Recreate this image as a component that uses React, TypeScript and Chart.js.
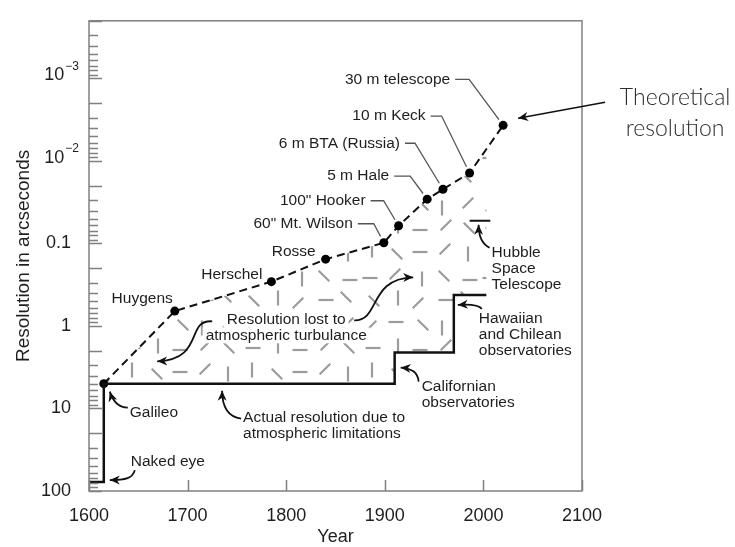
import React, { useEffect, useRef } from 'react';
import { Chart, registerables } from 'chart.js';

Chart.register(...registerables);

const FONT = "'Liberation Sans', Arial, Helvetica, sans-serif";
const INK = '#1e1e1e';
const FRAME = '#808080';

// Theoretical (diffraction-limited) resolution of landmark telescopes
const telescopes = ['Galileo', 'Huygens', 'Herschel', 'Rosse', '60" Mt. Wilson', '100" Hooker', '5 m Hale', '6 m BTA (Russia)', '10 m Keck', '30 m telescope'];
const telescopeYears = [1615, 1687, 1785, 1840, 1899, 1914, 1943, 1959, 1986, 2020];
const theoreticalRes = [5, 0.66, 0.29, 0.155, 0.098, 0.061, 0.029, 0.022, 0.014, 0.0037];

// Best resolution reached from the ground (steps at new observatory sites)
const actualYears = [1600, 1615, 1910, 1970, 2003];
const actualRes = [78, 5, 2.1, 0.42, 0.42];

// Hubble Space Telescope
const hubbleYears = [1986, 2007];
const hubbleRes = [0.053, 0.053];

// Axis ticks
const yearTicks = [1600, 1700, 1800, 1900, 2000, 2100];
const decadeTicks = [1e-3, 1e-2, 0.1, 1, 10, 100];
const decadeBase = ['10', '10', '0.1', '1', '10', '100'];
const decadeExp = ['\u22123', '\u22122', '', '', '', ''];

// Label placement next to each telescope point: [text right dx, text dy, leader elbow dx]
const labelPlacement: Record<string, [number, number, number | null]> = {
  'Huygens': [-2, -12, null],
  'Herschel': [-9, -7, null],
  'Rosse': [-10, -7, null],
  '60" Mt. Wilson': [-31, -19, -10],
  '100" Hooker': [-33, -25, -15],
  '5 m Hale': [-38, -23, -17],
  '6 m BTA (Russia)': [-43, -46, -28],
  '10 m Keck': [-44, -57, -28],
  '30 m telescope': [-53, -46, -34],
};

type Callout = {
  at: [number, number];
  lines: string[];
  dx: number;
  dy: number;
  align: CanvasTextAlign;
  curves: number[][]; // cubic curves as offsets: start, c1, c2, tip
  knockout?: boolean; // clear the texture behind the text
};

const callouts: Callout[] = [
  { at: [1615, 5], lines: ['Galileo'], dx: 26, dy: 29, align: 'left', curves: [[24, 24, 15, 24, 9, 17, 6, 8]] },
  { at: [1615, 78], lines: ['Naked eye'], dx: 27, dy: -20, align: 'left', curves: [[31, -12, 29, -4, 22, -2, 6, -2]] },
  { at: [1735, 5], lines: ['Actual resolution due to', 'atmospheric limitations'], dx: 21, dy: 34, align: 'left', curves: [[19, 35, 6, 33, 0, 24, 0, 7]] },
  {
    at: [1800, 0.83], lines: ['Resolution lost to', 'atmospheric turbulance'], dx: 0, dy: 0, align: 'center',
    curves: [[-74, 2, -101, 0, -81, 40, -129, 42], [68, 1, 94, 2, 82, -41, 127, -42]], knockout: true,
  },
  { at: [1986, 0.053], lines: ['Hubble', 'Space', 'Telescope'], dx: 22, dy: 32, align: 'left', curves: [[20, 27, 12, 23, 9, 15, 9, 4]] },
  { at: [1970, 0.42], lines: ['Hawaiian', 'and Chilean', 'observatories'], dx: 25, dy: 24, align: 'left', curves: [[28, 14, 25, 10, 18, 9, 4, 10]] },
  { at: [1910, 2.1], lines: ['Californian', 'observatories'], dx: 27, dy: 34.5, align: 'left', curves: [[24, 29, 23, 20, 18, 16, 6, 15]] },
];

// Short grey strokes that texture the "lost" band: [x, y, orientation] in a 120px tile
const hatchMarks: [number, number, number][] = [
  [12, 10, 1], [37, 14, 2], [60, 12, 0], [85, 9, 3], [108, 14, 1],
  [10, 38, 0], [35, 34, 3], [62, 39, 1], [84, 36, 2], [110, 40, 0],
  [14, 61, 2], [38, 58, 1], [58, 63, 3], [86, 60, 0], [106, 57, 2],
  [11, 86, 3], [36, 82, 0], [63, 85, 2], [82, 88, 1], [108, 83, 3],
  [13, 108, 0], [38, 106, 1], [60, 110, 0], [86, 105, 3], [109, 108, 2],
];

function makeHatch(): CanvasPattern | null {
  const c = document.createElement('canvas');
  c.width = 120;
  c.height = 120;
  const g = c.getContext('2d');
  if (!g) return null;
  g.strokeStyle = '#9c9c9c';
  g.lineWidth = 2.2;
  const h = 7.5;
  const r = Math.SQRT1_2;
  for (const [x, y, o] of hatchMarks) {
    const [ux, uy] = o === 0 ? [1, 0] : o === 1 ? [0, 1] : o === 2 ? [r, r] : [r, -r];
    g.beginPath();
    g.moveTo(x - ux * h, y - uy * h);
    g.lineTo(x + ux * h, y + uy * h);
    g.stroke();
  }
  return g.createPattern(c, 'repeat');
}

function drawArrowCurve(ctx: CanvasRenderingContext2D, ox: number, oy: number, c: number[]) {
  const [sx, sy, c1x, c1y, c2x, c2y, ex, ey] = c;
  ctx.beginPath();
  ctx.moveTo(ox + sx, oy + sy);
  ctx.bezierCurveTo(ox + c1x, oy + c1y, ox + c2x, oy + c2y, ox + ex, oy + ey);
  ctx.stroke();
  drawHead(ctx, ox + c2x, oy + c2y, ox + ex, oy + ey);
}

function drawHead(ctx: CanvasRenderingContext2D, fx: number, fy: number, tx: number, ty: number) {
  const a = Math.atan2(ty - fy, tx - fx);
  const len = 10;
  const w = 4.5;
  const bx = tx - Math.cos(a) * len;
  const by = ty - Math.sin(a) * len;
  ctx.beginPath();
  ctx.moveTo(tx, ty);
  ctx.lineTo(bx + Math.sin(a) * w, by - Math.cos(a) * w);
  ctx.lineTo(bx + Math.cos(a) * 3, by + Math.sin(a) * 3);
  ctx.lineTo(bx - Math.sin(a) * w, by + Math.cos(a) * w);
  ctx.closePath();
  ctx.fill();
}

const hatchPlugin = {
  id: 'lostBand',
  beforeDatasetsDraw(chart: any) {
    const ctx: CanvasRenderingContext2D = chart.ctx;
    const act = chart.getDatasetMeta(0).data;
    const theo = chart.getDatasetMeta(1).data;
    if (!act.length || !theo.length) return;
    const pattern = makeHatch();
    if (!pattern) return;
    const end = act[act.length - 1];
    ctx.save();
    ctx.beginPath();
    ctx.moveTo(theo[0].x, theo[0].y);
    for (let i = 1; i < theo.length; i++) {
      const p = theo[i];
      if (p.x <= end.x) {
        ctx.lineTo(p.x, p.y);
      } else {
        const q = theo[i - 1];
        const t = (end.x - q.x) / (p.x - q.x);
        ctx.lineTo(end.x, q.y + t * (p.y - q.y));
        break;
      }
    }
    ctx.lineTo(end.x, end.y);
    // walk back along the stepped ground-based curve (horizontal, then vertical)
    for (let i = act.length - 1; i >= 2; i--) {
      ctx.lineTo(act[i].x, act[i - 1].y);
      ctx.lineTo(act[i - 1].x, act[i - 1].y);
    }
    ctx.closePath();
    ctx.fillStyle = pattern;
    ctx.fill();
    ctx.restore();
  },
};

const decorPlugin = {
  id: 'decor',
  afterDraw(chart: any) {
    const ctx: CanvasRenderingContext2D = chart.ctx;
    const { left, right, top, bottom } = chart.chartArea;
    const xs = chart.scales.x;
    const ys = chart.scales.y;
    ctx.save();

    // frame
    ctx.strokeStyle = FRAME;
    ctx.lineWidth = 1.5;
    ctx.strokeRect(left, top, right - left, bottom - top);

    // inward y ticks: long at 1 and 2 x 10^n
    ctx.beginPath();
    for (let e = -4; e <= 2; e++) {
      for (let s = 1; s <= 9; s++) {
        const v = s * Math.pow(10, e);
        if (v < ys.min * 0.999 || v > ys.max * 1.001) continue;
        const y = Math.round(ys.getPixelForValue(v)) + 0.5;
        const len = s <= 2 ? 13 : 9;
        ctx.moveTo(left, y);
        ctx.lineTo(left + len, y);
      }
    }
    // inward x ticks
    for (const yr of yearTicks) {
      const x = Math.round(xs.getPixelForValue(yr)) + 0.5;
      ctx.moveTo(x, bottom);
      ctx.lineTo(x, bottom - 11);
    }
    ctx.stroke();

    // powers of ten with superscripts
    ctx.fillStyle = INK;
    ctx.textBaseline = 'middle';
    decadeTicks.forEach((v, i) => {
      if (!decadeExp[i]) return;
      const y = ys.getPixelForValue(v) - 3;
      const rx = left - 10;
      ctx.font = `12px ${FONT}`;
      ctx.textAlign = 'right';
      ctx.fillText(decadeExp[i], rx, y - 9);
      const ew = ctx.measureText(decadeExp[i]).width;
      ctx.font = `18px ${FONT}`;
      ctx.fillText(decadeBase[i], rx - ew - 1, y);
    });

    // telescope labels with leaders
    const theo = chart.getDatasetMeta(1).data;
    ctx.font = `15.5px ${FONT}`;
    telescopes.forEach((name, i) => {
      const pl = labelPlacement[name];
      const p = theo[i];
      if (!pl || !p) return;
      const [tdx, tdy, edx] = pl;
      ctx.fillStyle = INK;
      ctx.textAlign = 'right';
      ctx.fillText(name, p.x + tdx, p.y + tdy);
      if (edx !== null) {
        const y0 = p.y + tdy;
        const ex = p.x + edx;
        const a = Math.atan2(y0 - p.y, ex - p.x);
        ctx.strokeStyle = '#555';
        ctx.lineWidth = 1.3;
        ctx.beginPath();
        ctx.moveTo(p.x + tdx + 5, y0);
        ctx.lineTo(ex, y0);
        ctx.lineTo(p.x + Math.cos(a) * 7, p.y + Math.sin(a) * 7);
        ctx.stroke();
      }
    });

    // callouts with curved arrows
    ctx.strokeStyle = '#111';
    ctx.lineWidth = 1.8;
    for (const c of callouts) {
      const ox = xs.getPixelForValue(c.at[0]);
      const oy = ys.getPixelForValue(c.at[1]);
      ctx.textAlign = c.align;
      c.lines.forEach((ln, k) => {
        const tx = ox + c.dx;
        const ty = oy + c.dy + k * 16;
        if (c.knockout) {
          const w = ctx.measureText(ln).width;
          const x0 = c.align === 'center' ? tx - w / 2 : c.align === 'right' ? tx - w : tx;
          ctx.fillStyle = '#fff';
          ctx.fillRect(x0 - 3, ty - 8, w + 6, 16);
        }
        ctx.fillStyle = INK;
        ctx.fillText(ln, tx, ty);
      });
      ctx.fillStyle = '#111';
      for (const cv of c.curves) drawArrowCurve(ctx, ox, oy, cv);
    }

    // "Theoretical resolution" pointer to the dashed curve
    const last = theo[theo.length - 1];
    if (last) {
      ctx.lineWidth = 1.5;
      ctx.beginPath();
      ctx.moveTo(last.x + 102, last.y - 23);
      ctx.lineTo(last.x + 15, last.y - 7);
      ctx.stroke();
      drawHead(ctx, last.x + 102, last.y - 23, last.x + 15, last.y - 7);
      ctx.font = `300 23px Lato, 'Open Sans', sans-serif`;
      ctx.fillStyle = '#2e2e2e';
      ctx.textAlign = 'center';
      ctx.fillText('Theoretical', last.x + 172, last.y - 28);
      ctx.fillText('resolution', last.x + 172, last.y + 3);
    }
    ctx.restore();
  },
};

export default function App() {
  const ref = useRef<HTMLCanvasElement | null>(null);

  useEffect(() => {
    if (!ref.current) return;
    const pts = (xs: number[], ys: number[]) => xs.map((x, i) => ({ x, y: ys[i] }));
    const chart = new Chart(ref.current, {
      type: 'line',
      data: {
        datasets: [
          {
            label: 'Actual resolution',
            data: pts(actualYears, actualRes),
            stepped: 'before',
            borderColor: '#111',
            borderWidth: 2.5,
            pointRadius: 0,
            fill: false,
          },
          {
            label: 'Theoretical resolution',
            data: pts(telescopeYears, theoreticalRes),
            borderColor: '#111',
            borderWidth: 2,
            borderDash: [8, 5],
            pointRadius: 4.5,
            pointBorderWidth: 0,
            pointBackgroundColor: '#000',
            tension: 0,
            fill: false,
          },
          {
            label: 'Hubble Space Telescope',
            data: pts(hubbleYears, hubbleRes),
            borderColor: '#111',
            borderWidth: 2,
            pointRadius: 0,
            fill: false,
          },
        ],
      } as any,
      options: {
        animation: false,
        responsive: false,
        devicePixelRatio: 1,
        events: [],
        layout: { padding: { left: 0, top: 11, right: 153, bottom: 0 } },
        plugins: { legend: { display: false }, tooltip: { enabled: false } },
        scales: {
          x: {
            type: 'linear',
            min: 1600,
            max: 2100,
            afterBuildTicks: (s: any) => { s.ticks = yearTicks.map((v) => ({ value: v })); },
            afterFit: (s: any) => { s.height = 56; },
            ticks: {
              padding: 6,
              color: INK,
              font: { family: FONT, size: 18 },
              maxRotation: 0,
              autoSkip: false,
              callback: (v: any) => String(v),
            },
            grid: { display: false },
            border: { display: false },
            title: { display: true, text: 'Year', color: INK, font: { family: FONT, size: 18, lineHeight: 1.1 }, padding: { top: 0, bottom: 0 } },
          },
          y: {
            type: 'logarithmic',
            reverse: true,
            min: 2e-4,
            max: 100,
            afterBuildTicks: (s: any) => { s.ticks = decadeTicks.map((v) => ({ value: v })); },
            afterFit: (s: any) => { s.width = 89; },
            ticks: {
              padding: 10,
              color: INK,
              autoSkip: false,
              font: { family: FONT, size: 18 },
              callback: (v: any) => {
                const i = decadeTicks.findIndex((d) => Math.abs(d - Number(v)) < d * 1e-6);
                return i >= 0 && !decadeExp[i] ? decadeBase[i] : '';
              },
            },
            grid: { display: false },
            border: { display: false },
            title: { display: true, text: 'Resolution in arcseconds', color: INK, font: { family: FONT, size: 19 }, padding: { top: 12, bottom: 0 } },
          },
        },
      } as any,
      plugins: [hatchPlugin, decorPlugin],
    });
    return () => chart.destroy();
  }, []);

  return (
    <div style={{ position: 'fixed', left: 0, top: 0, width: 735, height: 547, background: '#fff' }}>
      <canvas ref={ref} width={735} height={547} style={{ display: 'block' }} />
    </div>
  );
}
